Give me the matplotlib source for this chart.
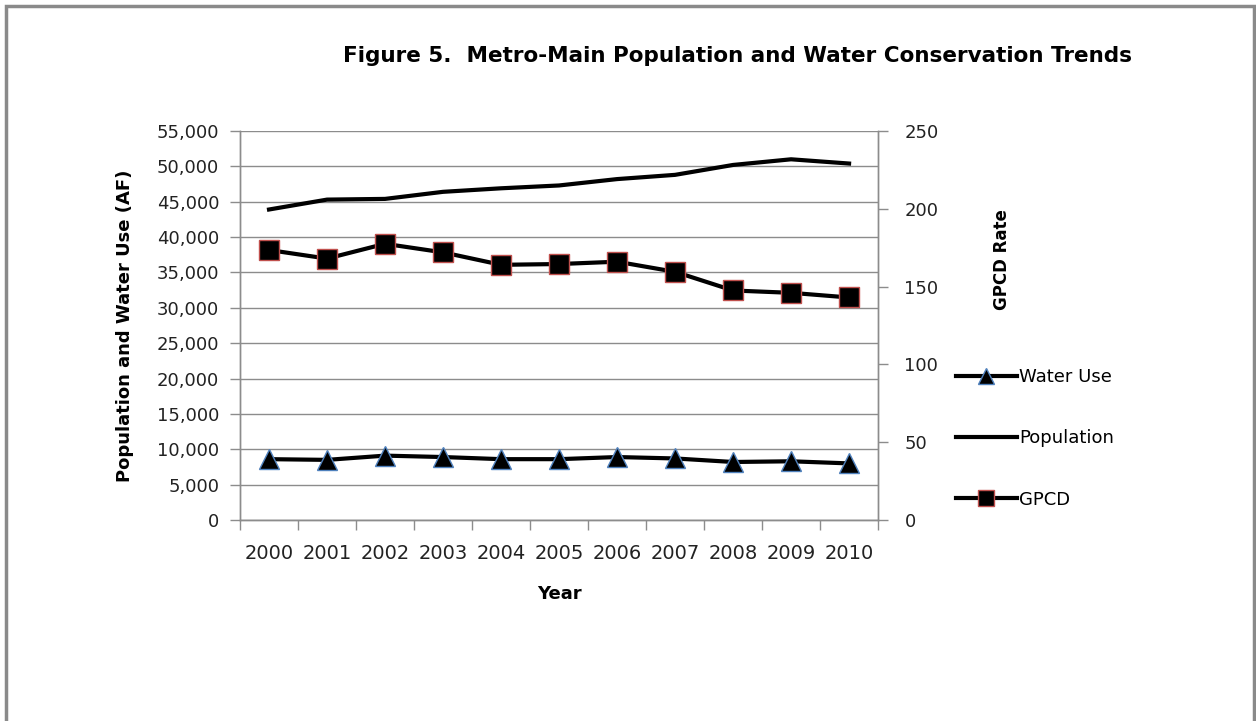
import matplotlib
matplotlib.use('Agg')
import matplotlib.pyplot as plt
from matplotlib.patches import Rectangle
from matplotlib.ticker import FuncFormatter, FixedLocator

years = ['2000', '2001', '2002', '2003', '2004', '2005', '2006', '2007', '2008', '2009', '2010']
water_use = [8600, 8500, 9100, 8900, 8600, 8600, 8900, 8700, 8200, 8300, 8000]
population = [43900, 45300, 45400, 46400, 46900, 47300, 48200, 48800, 50200, 51000, 50400]
gpcd = [173.5, 168, 177.5, 172, 164, 164.5, 166, 159.5, 147.5, 146, 143]

plt.rcParams['font.family'] = ['DejaVu Sans']

fig = plt.figure(figsize=(12.56, 7.21), dpi=100)
ax = fig.add_axes([0.1911, 0.2788, 0.5080, 0.5395])
ax2 = ax.twinx()

x = list(range(len(years)))
axis_gray = '#8c8c8c'

l_water, = ax.plot(x, water_use, color='black', lw=3, marker='^', ms=14,
                   mfc='black', mec='#4f81bd', mew=1, label='Water Use', zorder=3)
l_pop, = ax.plot(x, population, color='black', lw=3, label='Population', zorder=3)
l_gpcd, = ax2.plot(x, gpcd, color='black', lw=3, marker='s', ms=14,
                   mfc='black', mec='#c0504d', mew=1, label='GPCD', zorder=3)

ax.set_xlim(-0.5, len(years) - 0.5)
ax.set_ylim(0, 55000)
ax2.set_ylim(0, 250)
ax.set_yticks(range(0, 55001, 5000))
ax2.set_yticks(range(0, 251, 50))
ax.yaxis.set_major_formatter(FuncFormatter(lambda v, p: f'{int(v):,}'))

# category labels centred, tick marks on the boundaries
ax.set_xticks(x)
ax.set_xticklabels(years)
ax.xaxis.set_minor_locator(FixedLocator([i - 0.5 for i in range(len(years) + 1)]))
ax.tick_params(axis='x', which='major', length=0, pad=17, labelsize=14, labelcolor='#222222')
ax.tick_params(axis='x', which='minor', length=7, width=1, color=axis_gray)
ax.tick_params(axis='y', length=7, width=1, color=axis_gray, pad=8, labelsize=13, labelcolor='#222222')
ax2.tick_params(axis='y', length=7, width=1, color=axis_gray, pad=12, labelsize=13, labelcolor='#222222')

ax.grid(axis='y', color='#8c8c8c', lw=1)
ax.set_axisbelow(True)
for a in (ax, ax2):
    for s in a.spines.values():
        s.set_color(axis_gray)
        s.set_linewidth(1)
    a.spines['top'].set_visible(False)

ax.set_ylabel('Population and Water Use (AF)', fontsize=13, fontweight='bold', labelpad=16)
ax2.set_ylabel('GPCD Rate', fontsize=12, fontweight='bold')
ax2.yaxis.set_label_coords(1.18, 0.67)
ax.set_xlabel('Year', fontsize=13, fontweight='bold', labelpad=16)

fig.text(0.587, 0.923, 'Figure 5.  Metro-Main Population and Water Conservation Trends',
         ha='center', va='center', fontsize=15.5, fontweight='bold')

fig.legend(handles=[l_water, l_pop, l_gpcd], loc='upper left',
           bbox_to_anchor=(0.748, 0.512), frameon=False, fontsize=13,
           handlelength=3.4, handletextpad=0.1, labelspacing=2.4, markerscale=0.8)

# outer chart frame
fig.patches.append(Rectangle((6 / 1256, -0.01), 1248 / 1256, 1 - 6 / 721 + 0.01,
                             transform=fig.transFigure, fill=False,
                             edgecolor='#8a8a8a', lw=2.5))

fig.savefig('out.png', dpi=100, facecolor='white')
